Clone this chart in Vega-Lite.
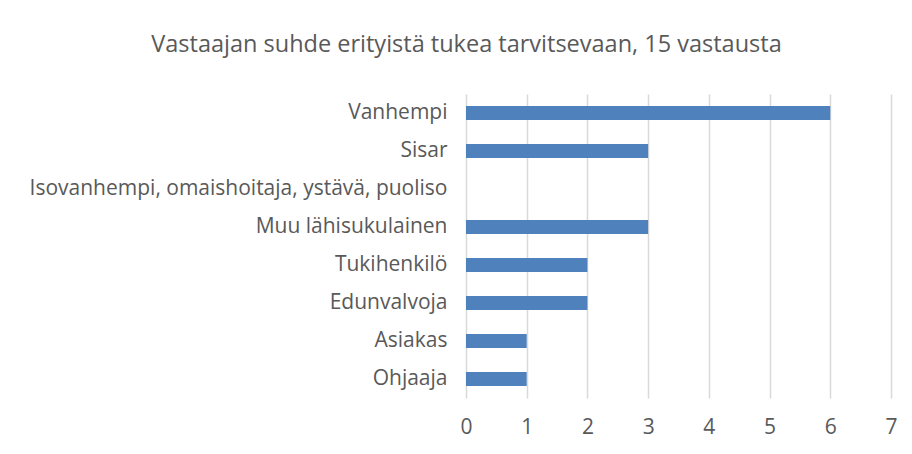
{
  "$schema": "https://vega.github.io/schema/vega-lite/v6.json",
  "width": 425,
  "height": 304,
  "autosize": {"type": "none"},
  "padding": {"left": 466, "top": 94, "right": 21, "bottom": 56},
  "background": "white",
  "title": {
    "text": "Vastaajan suhde erityistä tukea tarvitsevaan, 15 vastausta",
    "font": "Open Sans",
    "fontSize": 23.5,
    "fontWeight": "normal",
    "color": "#595959",
    "anchor": "middle",
    "dx": -212,
    "offset": 38
  },
  "data": {
    "values": [
      {"suhde": "Vanhempi", "maara": 6},
      {"suhde": "Sisar", "maara": 3},
      {"suhde": "Isovanhempi, omaishoitaja, ystävä, puoliso", "maara": 0},
      {"suhde": "Muu lähisukulainen", "maara": 3},
      {"suhde": "Tukihenkilö", "maara": 2},
      {"suhde": "Edunvalvoja", "maara": 2},
      {"suhde": "Asiakas", "maara": 1},
      {"suhde": "Ohjaaja", "maara": 1}
    ]
  },
  "mark": {"type": "bar", "color": "#4f81bd"},
  "encoding": {
    "y": {
      "field": "suhde",
      "type": "nominal",
      "sort": null,
      "scale": {"paddingInner": 0.63, "paddingOuter": 0.315},
      "axis": {
        "title": null,
        "domain": false,
        "ticks": false,
        "labelPadding": 19,
        "labelFont": "Open Sans",
        "labelFontSize": 21,
        "labelColor": "#595959",
        "labelLimit": 500
      }
    },
    "x": {
      "field": "maara",
      "type": "quantitative",
      "scale": {"domain": [0, 7], "nice": false},
      "axis": {
        "title": null,
        "values": [0, 1, 2, 3, 4, 5, 6, 7],
        "grid": true,
        "gridColor": "#d9d9d9",
        "gridWidth": 1.5,
        "domain": false,
        "ticks": false,
        "labelFlush": false,
        "labelPadding": 18,
        "labelFont": "Open Sans",
        "labelFontSize": 21,
        "labelColor": "#595959"
      }
    }
  },
  "config": {"view": {"stroke": null}}
}
